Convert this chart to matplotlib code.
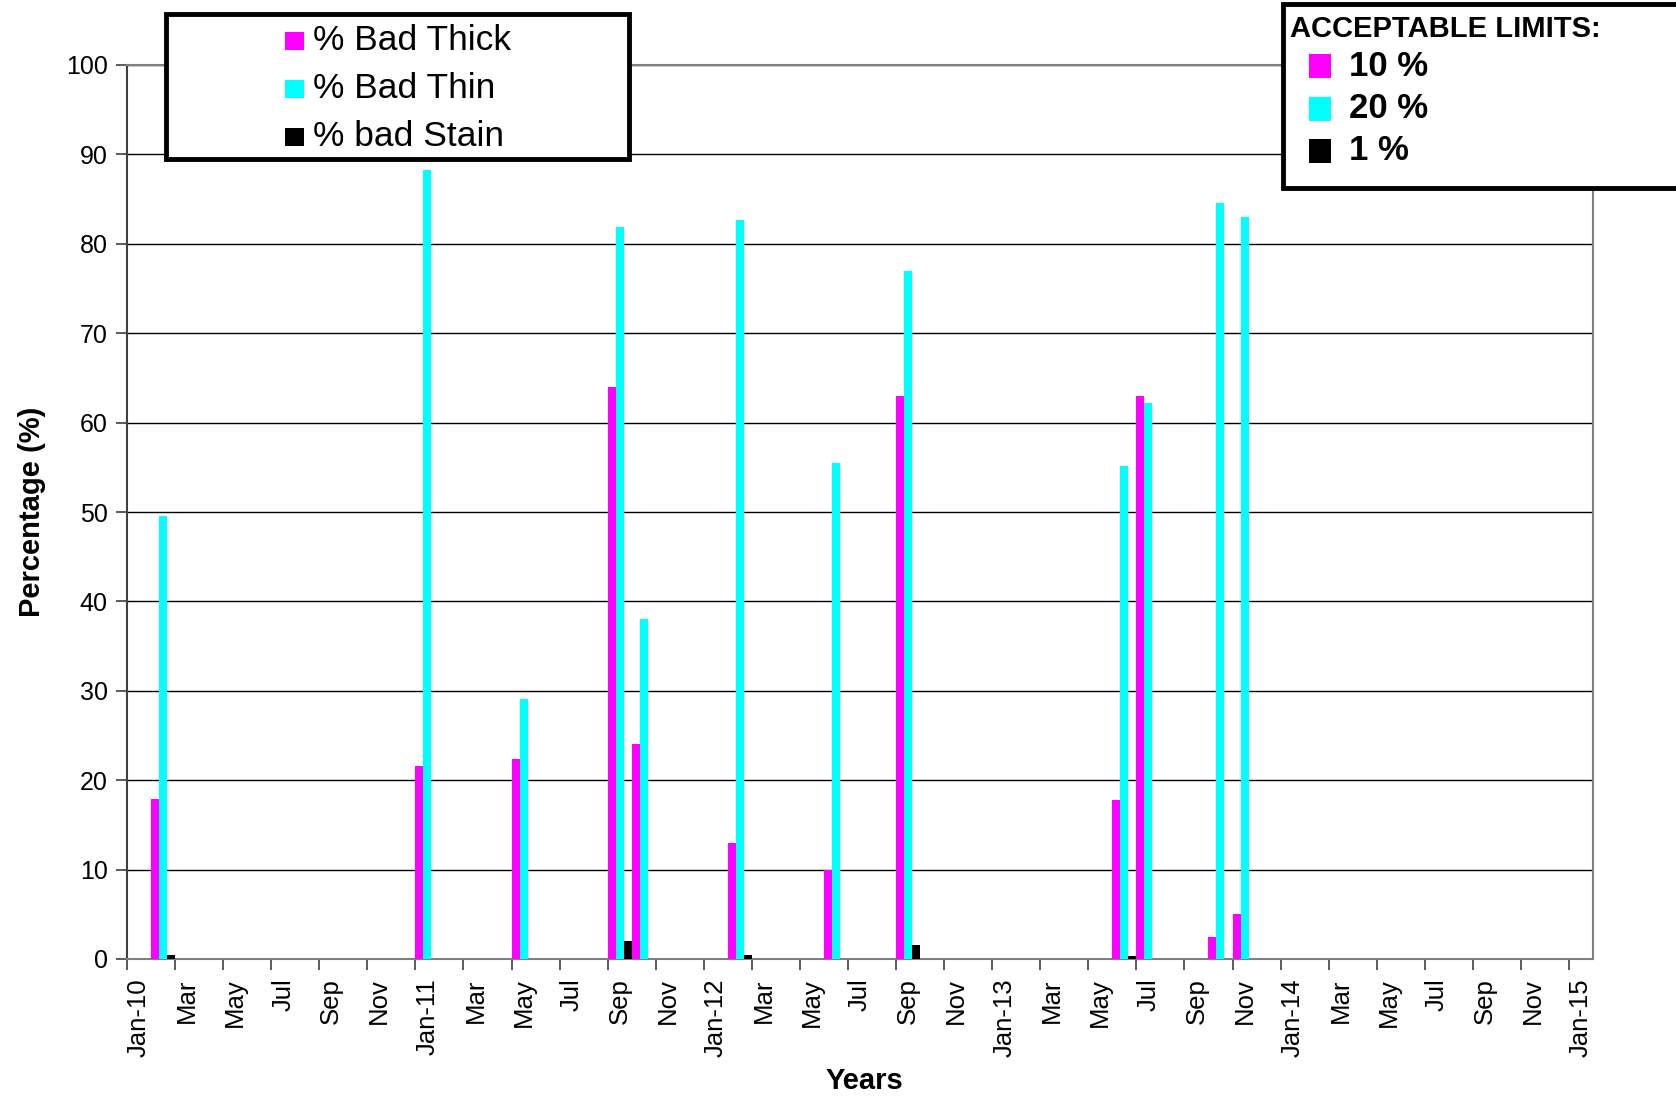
import numpy as np
import pandas as pd
import matplotlib
matplotlib.use('Agg')
import matplotlib.pyplot as plt
from matplotlib.patches import Rectangle

plt.rcParams['font.family'] = ['Liberation Sans', 'DejaVu Sans']

# data (one group per month)
months = ['2010-02', '2011-01', '2011-05', '2011-09', '2011-10', '2012-02',
          '2012-06', '2012-09', '2013-06', '2013-07', '2013-10', '2013-11']
bad_thick = [17.9, 21.6, 22.4, 64.0, 24.0, 13.0, 10.0, 63.0, 17.8, 63.0, 2.5, 5.0]
bad_thin = [49.5, 88.3, 29.1, 81.9, 38.0, 82.7, 55.5, 77.0, 55.1, 62.2, 84.6, 83.0]
bad_stain = [0.45, 0, 0, 2.0, 0, 0.4, 0, 1.6, 0.3, 0, 0, 0]

series_names = ['% Bad Thick', '% Bad Thin', '% bad Stain']
colors = ['#ff00ff', '#00ffff', '#000000']
limit_labels = ['10 %', '20 %', '1 %']

start = pd.Timestamp('2010-01-01')
n_months = 61  # Jan-10 .. Jan-15
month_names = ['Jan', 'Feb', 'Mar', 'Apr', 'May', 'Jun', 'Jul', 'Aug', 'Sep', 'Oct', 'Nov', 'Dec']


def month_index(s):
    d = pd.Timestamp(s + '-01')
    return (d.year - start.year) * 12 + d.month - 1


idx = np.array([month_index(m) for m in months])

fig = plt.figure(figsize=(16.76, 10.99), dpi=100)
ax = fig.add_axes([127 / 1676, 140 / 1099, 1466 / 1676, 894 / 1099])

w = 1 / 3
for k, vals in enumerate([bad_thick, bad_thin, bad_stain]):
    ax.bar(idx + w * k + w / 2, vals, width=w, color=colors[k], linewidth=0, zorder=3)

ax.set_xlim(0, n_months)
ax.set_ylim(0, 100)
ax.set_yticks(np.arange(0, 101, 10))
ax.yaxis.grid(True, color='black', linewidth=1.0, zorder=1)
ax.tick_params(axis='y', labelsize=18, length=8, width=1.2, color='#404040', pad=6)

# ticks at slot boundaries every 2 months, labels centered on the slots
ax.set_xticks(np.arange(0, n_months, 2))
ax.tick_params(axis='x', which='major', length=8, width=1.2, color='#404040', labelbottom=False)
tick_labels = []
for m in range(0, n_months, 2):
    yr = 2010 + m // 12
    mo = m % 12
    if mo == 0:
        tick_labels.append('Jan-%02d' % (yr % 100))
    else:
        tick_labels.append(month_names[mo])
ax.set_xticks(np.arange(0, n_months, 2) + 0.5, minor=True)
ax.set_xticklabels(tick_labels, minor=True, rotation=90, fontsize=18.5)
ax.tick_params(axis='x', which='minor', length=0, pad=14)

for s in ['left', 'bottom', 'right', 'top']:
    ax.spines[s].set_color('#808080')
    ax.spines[s].set_linewidth(1.5)
ax.spines['left'].set_color('#404040')

ax.set_ylabel('Percentage (%)', fontsize=21, fontweight='bold', labelpad=14)
ax.set_xlabel('Years', fontsize=21, fontweight='bold')
ax.xaxis.set_label_coords(0.503, -0.121)

# series legend box
H = 1099.0
Wf = 1676.0
fig.patches.append(Rectangle((166 / Wf, 1 - 159 / H), (629 - 166) / Wf, (159 - 14) / H,
                             transform=fig.transFigure, facecolor='white',
                             edgecolor='black', linewidth=3.5, zorder=5))
for i, (name, c) in enumerate(zip(series_names, colors)):
    yc = [41, 89, 137][i]
    fig.patches.append(Rectangle((285 / Wf, 1 - (yc + 9) / H), 19 / Wf, 18 / H,
                                 transform=fig.transFigure, facecolor=c,
                                 edgecolor='none', zorder=6))
    fig.text(313 / Wf, 1 - yc / H, name, fontsize=25.5, va='center', ha='left', zorder=6)

# acceptable limits box
fig.patches.append(Rectangle((1283 / Wf, 1 - 188 / H), 500 / Wf, (188 - 4) / H,
                             transform=fig.transFigure, facecolor='white',
                             edgecolor='black', linewidth=3.5, zorder=5, clip_on=False))
fig.text(1290 / Wf, 1 - 29 / H, 'ACCEPTABLE LIMITS:', fontsize=21, fontweight='bold',
         va='center', ha='left', zorder=6)
for i, (lab, c) in enumerate(zip(limit_labels, colors)):
    yc = [66, 109, 151][i]
    fig.patches.append(Rectangle((1309 / Wf, 1 - (yc + 12) / H), 22 / Wf, 24 / H,
                                 transform=fig.transFigure, facecolor=c,
                                 edgecolor='none', zorder=6))
    fig.text(1349 / Wf, 1 - yc / H, lab, fontsize=25, fontweight='bold',
             va='center', ha='left', zorder=6)

fig.savefig('out.png', dpi=100)
